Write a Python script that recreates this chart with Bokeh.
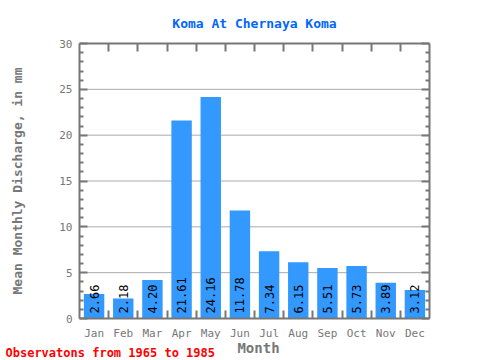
import math
from bokeh.plotting import figure
from bokeh.models import Range1d, LinearAxis, FixedTicker, Label, ColumnDataSource, Span
from bokeh.core.properties import value
from bokeh.embed import file_html
from bokeh.resources import INLINE

months = ["Jan", "Feb", "Mar", "Apr", "May", "Jun", "Jul", "Aug", "Sep", "Oct", "Nov", "Dec"]
discharge = [2.66, 2.18, 4.20, 21.61, 24.16, 11.78, 7.34, 6.15, 5.51, 5.73, 3.89, 3.12]
y_ticks = [0, 5, 10, 15, 20, 25, 30]
title_text = "Koma At Chernaya Koma"
y_label = "Mean Monthly Discharge, in mm"
x_label = "Month"
footer_text = "Observatons from 1965 to 1985"

FONT = "DejaVu Sans Mono"
GRAY = "#777777"

centers = [i + 0.5 for i in range(len(months))]
bounds = [i for i in range(1, len(months))]
labels = ["%.2f" % v for v in discharge]

src = ColumnDataSource(dict(x=centers, top=discharge, lab=labels, zero=[0] * len(months)))

p = figure(width=480, height=360, output_backend="svg", toolbar_location=None,
           x_range=Range1d(0, 12), y_range=Range1d(0, 30),
           x_axis_location=None, y_axis_location=None,
           min_border_left=79, min_border_right=51, min_border_top=43, min_border_bottom=42)
p.outline_line_color = None
p.background_fill_color = "white"
p.border_fill_color = "white"

p.xgrid.visible = False
p.ygrid.visible = False

p.title.text = title_text
p.title.align = "center"
p.title.text_font = FONT
p.title.text_font_size = "13px"
p.title.text_font_style = "bold"
p.title.text_color = "#0066ff"
p.title.standoff = 25

minor_y = [v for v in range(0, 31) if v % 5 != 0]

def style_axis(ax):
    ax.axis_line_color = GRAY
    ax.axis_line_width = 2
    ax.major_tick_line_color = GRAY
    ax.minor_tick_line_color = GRAY
    ax.major_tick_line_width = 2
    ax.minor_tick_line_width = 2
    ax.major_tick_out = 0
    ax.minor_tick_out = 0
    ax.major_label_text_font = FONT
    ax.major_label_text_font_size = "11px"
    ax.major_label_text_color = GRAY
    ax.axis_label_text_font = FONT
    ax.axis_label_text_font_style = "bold"
    ax.axis_label_text_color = GRAY

left = LinearAxis(ticker=FixedTicker(ticks=y_ticks, minor_ticks=minor_y))
style_axis(left)
left.major_tick_in = 8
left.minor_tick_in = 4
left.major_label_standoff = 7
left.axis_label = y_label
left.axis_label_text_font_size = "13px"
left.axis_label_standoff = 31
p.add_layout(left, "left")

right = LinearAxis(ticker=FixedTicker(ticks=y_ticks, minor_ticks=minor_y),
                   major_label_overrides={t: "" for t in y_ticks})
style_axis(right)
right.major_tick_in = 8
right.minor_tick_in = 4
right.major_label_standoff = 0
right.major_label_text_font_size = "1px"
p.add_layout(right, "right")

bottom = LinearAxis(ticker=FixedTicker(ticks=centers, minor_ticks=bounds),
                    major_label_overrides={c: m for c, m in zip(centers, months)})
style_axis(bottom)
bottom.major_tick_in = 0
bottom.major_tick_line_alpha = 0
bottom.minor_tick_in = 8
bottom.major_label_standoff = 8
p.add_layout(bottom, "below")

top = LinearAxis(ticker=FixedTicker(ticks=bounds),
                 major_label_overrides={b: "" for b in bounds})
style_axis(top)
top.major_tick_in = 8
top.major_label_standoff = 0
top.major_label_text_font_size = "1px"
p.add_layout(top, "above")

month_label = Label(x=258, y=347, x_units="canvas", y_units="canvas", text=x_label,
                    text_font=FONT, text_font_size="14px", text_font_style="bold",
                    text_color=GRAY, text_align="center", text_baseline="middle")
p.add_layout(month_label, "right")

footer = Label(x=5, y=352, x_units="canvas", y_units="canvas", text=footer_text,
               text_font=FONT, text_font_size="12px", text_font_style="bold",
               text_color="#ff0000", text_align="left", text_baseline="middle")
p.add_layout(footer, "below")

for t in y_ticks[1:-1]:
    p.add_layout(Span(location=t, dimension="width", line_color="#aaaaaa", line_width=1, level="underlay"))

p.vbar(x="x", top="top", width=0.7, bottom=0, source=src, fill_color="#3399ff", line_color=None)
p.text(x="x", y="zero", text="lab", source=src, angle=math.pi / 2, text_align="left",
       text_baseline="middle", y_offset=-5, text_font=value(FONT), text_font_size="12px",
       text_color="black")

open("out.html", "w").write(file_html(p, INLINE))
